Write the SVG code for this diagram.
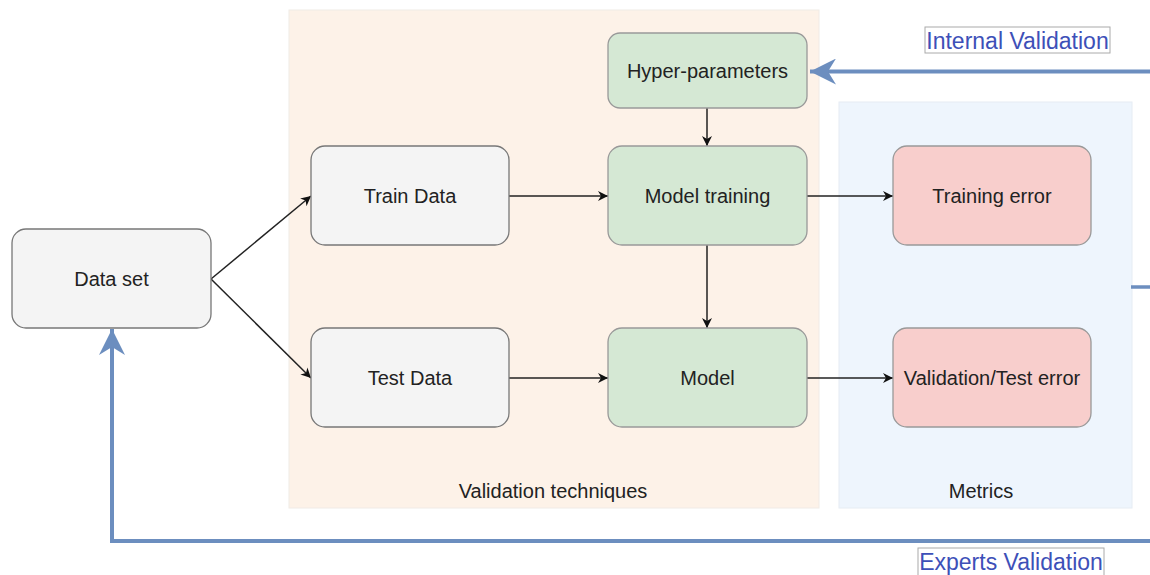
<svg xmlns="http://www.w3.org/2000/svg" width="1150" height="575" viewBox="0 0 1150 575">
<defs>
<style>
.t{font-family:"Liberation Sans",Arial,sans-serif;font-size:20px;fill:#222;text-anchor:middle;dominant-baseline:central}
.gray{fill:#f4f4f4;stroke:#777;stroke-width:1.3}
.green{fill:#d5e8d4;stroke:#999;stroke-width:1.3}
.red{fill:#f8cecc;stroke:#999;stroke-width:1.3}
.edge{stroke:#222;stroke-width:1.5;fill:none}
.blue{stroke:#6c8ebf;stroke-width:4;fill:none}
.lbl{font-family:"Liberation Sans",Arial,sans-serif;font-size:23px;fill:#3d50b8;text-anchor:middle;dominant-baseline:central}
</style>
<marker id="ah" viewBox="0 0 10 10" refX="10" refY="5" markerWidth="10" markerHeight="10" markerUnits="userSpaceOnUse" orient="auto">
<path d="M0,0 L10,5 L0,10 L3,5 Z" fill="#111"/>
</marker>
<marker id="bh" viewBox="0 0 26 26" refX="26" refY="13" markerWidth="26" markerHeight="26" markerUnits="userSpaceOnUse" orient="auto">
<path d="M0,0 L26,13 L0,26 L8,13 Z" fill="#6c8ebf"/>
</marker>
</defs>
<rect width="1150" height="575" fill="#fff"/>
<g id="validation-techniques">
<rect x="289" y="10" width="530" height="498" fill="#fdf2e8" stroke="#f0ebe6" stroke-width="1"/>
<text class="t" x="553" y="491">Validation techniques</text>
</g>
<g id="metrics">
<rect x="839" y="102" width="293" height="406" fill="#eef5fd" stroke="#e6ecf3" stroke-width="1"/>
<text class="t" x="981" y="491">Metrics</text>
</g>
<g id="connectors">
<path class="edge" d="M211,279 L311,196" marker-end="url(#ah)"/>
<path class="edge" d="M211,279 L311,378" marker-end="url(#ah)"/>
<path class="edge" d="M509,196 L608,196" marker-end="url(#ah)"/>
<path class="edge" d="M509,378 L608,378" marker-end="url(#ah)"/>
<path class="edge" d="M707,108 L707,146" marker-end="url(#ah)"/>
<path class="edge" d="M707,245 L707,328" marker-end="url(#ah)"/>
<path class="edge" d="M807,196 L893,196" marker-end="url(#ah)"/>
<path class="edge" d="M807,378 L893,378" marker-end="url(#ah)"/>
<path class="blue" d="M1150,71.5 L810,71.5" marker-end="url(#bh)"/>
<path class="blue" d="M1150,541 L112,541 L112,329" marker-end="url(#bh)"/>
<path d="M1131,287 L1150,287" stroke="#6c8ebf" stroke-width="3.5"/>
</g>
<g id="data-set">
<rect class="gray" x="12" y="229" width="199" height="99" rx="14"/>
<text class="t" x="111.5" y="279">Data set</text>
</g>
<g id="train-data">
<rect class="gray" x="311" y="146" width="198" height="99" rx="14"/>
<text class="t" x="410" y="196">Train Data</text>
</g>
<g id="test-data">
<rect class="gray" x="311" y="328" width="198" height="99" rx="14"/>
<text class="t" x="410" y="378">Test Data</text>
</g>
<g id="hyper-parameters">
<rect class="green" x="608" y="33" width="199" height="75" rx="12"/>
<text class="t" x="707.5" y="71">Hyper-parameters</text>
</g>
<g id="model-training">
<rect class="green" x="608" y="146" width="199" height="99" rx="14"/>
<text class="t" x="707.5" y="196">Model training</text>
</g>
<g id="model">
<rect class="green" x="608" y="328" width="199" height="99" rx="14"/>
<text class="t" x="707.5" y="378">Model</text>
</g>
<g id="training-error">
<rect class="red" x="893" y="146" width="198" height="99" rx="14"/>
<text class="t" x="992" y="196">Training error</text>
</g>
<g id="validation-test-error">
<rect class="red" x="893" y="328" width="198" height="99" rx="14"/>
<text class="t" x="992" y="378">Validation/Test error</text>
</g>
<g id="internal-validation">
<rect x="925" y="27" width="185" height="26" fill="#fff" stroke="#aaa" stroke-width="1"/>
<text class="lbl" x="1017.5" y="40.5">Internal Validation</text>
</g>
<g id="experts-validation">
<rect x="918" y="548" width="186" height="30" fill="#fff" stroke="#aaa" stroke-width="1"/>
<text class="lbl" x="1011" y="562">Experts Validation</text>
</g>
</svg>
